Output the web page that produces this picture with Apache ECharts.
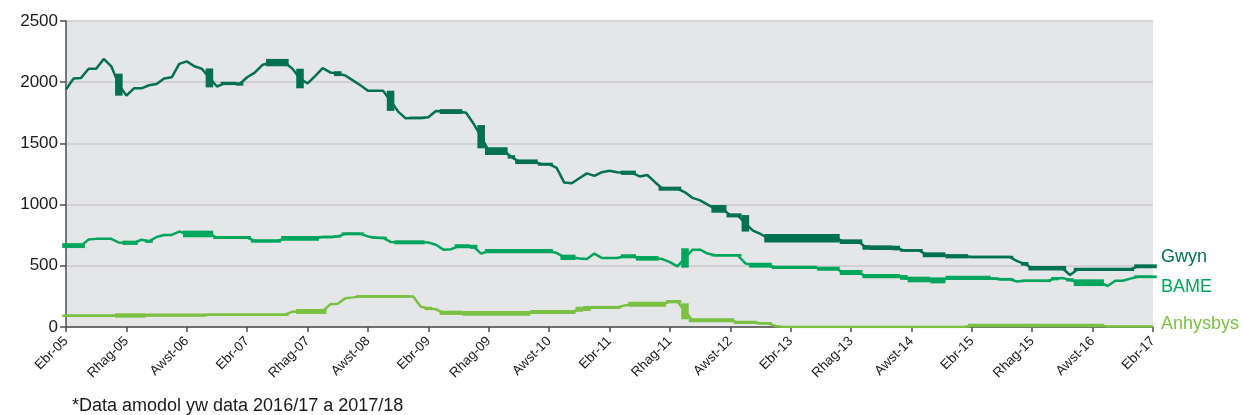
<!DOCTYPE html>
<html>
<head>
<meta charset="utf-8">
<script src="https://cdn.jsdelivr.net/npm/echarts@6/dist/echarts.min.js"></script>
<style>
  html, body { margin: 0; padding: 0; background: #fff; }
  #chart { width: 1243px; height: 415px; }
</style>
</head>
<body>
<div id="chart"></div>
<script>
// misoedd (Ebrill 2005 - Ebrill 2017), un pwynt y mis
var monthNames = ['Ion', 'Chwef', 'Maw', 'Ebr', 'Mai', 'Meh', 'Gorff', 'Awst', 'Medi', 'Hyd', 'Tach', 'Rhag'];
var categories = [];
for (var k = 0; k < 145; k++) {
  var m = (3 + k) % 12, y = 5 + Math.floor((3 + k) / 12);
  categories.push(monthNames[m] + '-' + (y < 10 ? '0' + y : y));
}

var gwyn = [
  1940, 2030, 2035, 2110, 2110, 2190, 2130, 1980, 1890, 1950,
  1950, 1975, 1985, 2030, 2040, 2150, 2170, 2130, 2110, 2035,
  1965, 1990, 1990, 1985, 2040, 2078, 2140, 2160, 2160, 2160,
  2110, 2030, 1990, 2050, 2115, 2080, 2070, 2055, 2015, 1975,
  1930, 1930, 1930, 1848, 1760, 1705, 1708, 1708, 1713, 1765,
  1760, 1760, 1760, 1750, 1660, 1555, 1437, 1437, 1437, 1390,
  1350, 1350, 1350, 1330, 1330, 1300, 1180, 1174, 1215, 1255,
  1235, 1265, 1277, 1265, 1260, 1260, 1230, 1242, 1185, 1130,
  1130, 1130, 1100, 1055, 1035, 1000, 965, 965, 912, 912,
  847, 787, 760, 725, 725, 725, 725, 725, 725, 725,
  725, 725, 725, 697, 697, 697, 650, 648, 648, 648,
  645, 626, 626, 626, 590, 590, 590, 578, 578, 578,
  572, 572, 572, 572, 572, 572, 538, 516, 480, 480,
  480, 480, 480, 425, 470, 470, 470, 470, 470, 470,
  470, 470, 496, 496, 496
];
// amrywiad o fewn y mis (trwch y llinell)
var gwynSpread = [
  0, 0, 0, 0, 0, 0, 0, 180, 0, 0,
  0, 0, 0, 0, 0, 0, 0, 0, 0, 155,
  0, 27, 27, 27, 0, 0, 0, 60, 60, 60,
  0, 160, 0, 0, 0, 0, 40, 0, 0, 0,
  0, 0, 0, 165, 0, 0, 20, 20, 0, 0,
  40, 40, 40, 0, 0, 190, 63, 63, 63, 28,
  38, 38, 38, 24, 24, 0, 0, 0, 0, 0,
  0, 0, 0, 0, 35, 35, 0, 0, 0, 33,
  33, 33, 0, 0, 0, 0, 63, 63, 33, 33,
  135, 0, 0, 71, 71, 71, 71, 71, 71, 71,
  71, 71, 71, 38, 38, 38, 38, 38, 38, 38,
  38, 22, 22, 22, 40, 40, 40, 35, 35, 35,
  20, 20, 20, 20, 20, 20, 0, 30, 38, 38,
  38, 38, 38, 0, 27, 27, 27, 27, 27, 27,
  27, 27, 32, 32, 32
];

var bame = [
  665, 665, 665, 715, 720, 720, 720, 690, 688, 688,
  713, 700, 735, 752, 752, 780, 760, 760, 760, 760,
  731, 731, 731, 731, 731, 703, 703, 703, 703, 724,
  724, 724, 724, 724, 735, 735, 740, 761, 761, 761,
  740, 730, 728, 695, 692, 692, 692, 692, 690, 672,
  632, 635, 660, 660, 655, 600, 620, 620, 620, 620,
  620, 620, 620, 620, 620, 605, 569, 569, 560, 556,
  600, 563, 563, 563, 578, 578, 561, 561, 561, 555,
  530, 495, 564, 632, 632, 600, 586, 586, 586, 586,
  520, 505, 505, 505, 487, 487, 487, 487, 487, 487,
  476, 476, 476, 445, 445, 445, 415, 415, 415, 415,
  415, 405, 388, 388, 388, 381, 381, 401, 401, 401,
  401, 401, 401, 395, 390, 390, 372, 377, 377, 377,
  377, 395, 400, 385, 362, 362, 362, 362, 335, 378,
  378, 395, 410, 410, 410
];
var bameSpread = [
  40, 40, 40, 0, 0, 0, 0, 0, 35, 35,
  0, 25, 0, 0, 0, 0, 54, 54, 54, 54,
  24, 24, 24, 24, 24, 27, 27, 27, 27, 38,
  38, 38, 38, 38, 20, 20, 20, 24, 24, 24,
  0, 20, 20, 0, 33, 33, 33, 33, 0, 0,
  0, 0, 33, 33, 33, 0, 35, 35, 35, 35,
  35, 35, 35, 35, 35, 0, 44, 44, 0, 0,
  0, 0, 0, 0, 33, 33, 38, 38, 38, 0,
  0, 0, 158, 0, 0, 0, 20, 20, 20, 20,
  0, 40, 40, 40, 27, 27, 27, 27, 27, 27,
  33, 33, 33, 41, 41, 41, 35, 35, 35, 35,
  35, 40, 46, 46, 46, 49, 49, 35, 35, 35,
  35, 35, 35, 22, 22, 22, 0, 20, 20, 20,
  20, 27, 0, 27, 55, 55, 55, 55, 0, 0,
  0, 0, 22, 22, 22
];

var anhysbys = [
  92, 92, 92, 92, 92, 92, 92, 94, 94, 94,
  94, 97, 97, 97, 97, 97, 97, 97, 97, 100,
  100, 100, 100, 100, 100, 100, 100, 100, 100, 100,
  125, 127, 127, 127, 127, 185, 190, 235, 242, 250,
  250, 250, 250, 250, 250, 250, 250, 165, 152, 145,
  116, 116, 116, 111, 111, 111, 111, 111, 111, 111,
  111, 111, 122, 122, 122, 122, 122, 122, 145, 151,
  160, 160, 160, 160, 175, 186, 186, 186, 186, 186,
  207, 207, 128, 55, 55, 55, 55, 55, 55, 38,
  38, 38, 30, 30, 8, 0, 0, 0, 0, 0,
  0, 0, 0, 0, 0, 0, 0, 0, 0, 0,
  0, 0, 0, 0, 0, 0, 0, 0, 0, 0,
  12, 12, 12, 12, 12, 12, 12, 12, 12, 12,
  12, 12, 12, 12, 12, 12, 12, 12, 5, 5,
  5, 5, 5, 5, 5
];
var anhysbysSpread = [
  22, 22, 22, 22, 22, 22, 22, 36, 36, 36,
  36, 25, 25, 25, 25, 25, 25, 25, 25, 20,
  20, 20, 20, 20, 20, 20, 20, 20, 20, 20,
  0, 41, 41, 41, 41, 0, 0, 0, 0, 22,
  22, 22, 22, 22, 22, 22, 0, 0, 27, 0,
  35, 35, 35, 38, 38, 38, 38, 38, 38, 38,
  38, 38, 33, 33, 33, 33, 33, 33, 41, 41,
  25, 25, 25, 25, 0, 41, 41, 41, 41, 41,
  27, 27, 131, 33, 33, 33, 33, 33, 33, 26,
  26, 26, 20, 20, 0, 0, 0, 0, 0, 0,
  0, 0, 0, 0, 0, 0, 0, 0, 0, 0,
  0, 0, 0, 0, 0, 0, 0, 0, 0, 0,
  30, 30, 30, 30, 30, 30, 30, 30, 30, 30,
  30, 30, 30, 30, 30, 30, 30, 30, 0, 0,
  0, 0, 0, 0, 0
];

var colors = { gwyn: '#00724f', bame: '#00a65b', anhysbys: '#7ac143' };
var FONT = '"Liberation Sans", Arial, sans-serif';

function lineSeries(name, values, color, dy) {
  return {
    name: name,
    type: 'line',
    data: values,
    symbol: 'none',
    z: 4,
    lineStyle: { color: color, width: 2.5 },
    endLabel: {
      show: true,
      formatter: '{a}',
      color: color,
      fontFamily: FONT,
      fontSize: 18,
      distance: 8,
      offset: [0, dy]
    }
  };
}

// blociau trwchus lle mae'r gwerth yn newid o fewn y mis
// (misoedd olynol gyda'r un gwerth yn cael eu huno yn un bloc)
function bandSeries(name, values, spread, color) {
  var rows = [];
  for (var i = 0; i < values.length; i++) {
    if (!(spread[i] > 0)) continue;
    var last = rows[rows.length - 1];
    if (last && last[1] === i - 1 && last[2] === values[i] && last[3] === spread[i]) {
      last[1] = i;
    } else {
      rows.push([i, i, values[i], spread[i]]);
    }
  }
  return {
    name: name + '_band',
    type: 'custom',
    z: 3,
    silent: true,
    renderItem: function (params, api) {
      var a = api.value(0), b = api.value(1), v = api.value(2), s = api.value(3);
      var p0 = api.coord([a, v + s / 2]);
      var p1 = api.coord([b, v - s / 2]);
      var half = api.size([1, 0])[0] / 2;
      return {
        type: 'rect',
        shape: { x: p0[0] - half, y: p0[1], width: p1[0] - p0[0] + 2 * half, height: p1[1] - p0[1] },
        style: { fill: color }
      };
    },
    encode: { x: [0, 1], y: 2 },
    data: rows
  };
}

var chart = echarts.init(document.getElementById('chart'));
chart.setOption({
  animation: false,
  grid: {
    left: 66, right: 90, top: 21, bottom: 88,
    show: true, backgroundColor: '#e5e6e8', borderWidth: 0
  },
  graphic: [{
    type: 'text', left: 72, top: 397,
    style: { text: '*Data amodol yw data 2016/17 a 2017/18', font: '18px ' + FONT, fill: '#1a1a1a' }
  }],
  xAxis: {
    type: 'category',
    boundaryGap: false,
    data: categories,
    axisLine: { lineStyle: { color: '#4d4d4d', width: 1.5 } },
    axisTick: { interval: 7, length: 5, lineStyle: { color: '#4d4d4d', width: 1.5 } },
    axisLabel: { interval: 7, rotate: 45, margin: 12, color: '#1a1a1a', fontSize: 13.5, fontFamily: FONT },
    splitLine: { show: false }
  },
  yAxis: {
    type: 'value',
    min: 0, max: 2500, interval: 500,
    axisLine: { show: true, lineStyle: { color: '#4d4d4d', width: 1.5 } },
    axisTick: { show: true, length: 6, lineStyle: { color: '#4d4d4d', width: 1.5 } },
    axisLabel: { margin: 8, color: '#1a1a1a', fontSize: 17, fontFamily: FONT, formatter: function (v) { return String(v); } },
    splitLine: { lineStyle: { color: '#c8c9cb', width: 1.5 } }
  },
  series: [
    bandSeries('Gwyn', gwyn, gwynSpread, colors.gwyn),
    bandSeries('BAME', bame, bameSpread, colors.bame),
    bandSeries('Anhysbys', anhysbys, anhysbysSpread, colors.anhysbys),
    lineSeries('Gwyn', gwyn, colors.gwyn, -9),
    lineSeries('BAME', bame, colors.bame, 10),
    lineSeries('Anhysbys', anhysbys, colors.anhysbys, -2)
  ]
});
</script>
</body>
</html>
